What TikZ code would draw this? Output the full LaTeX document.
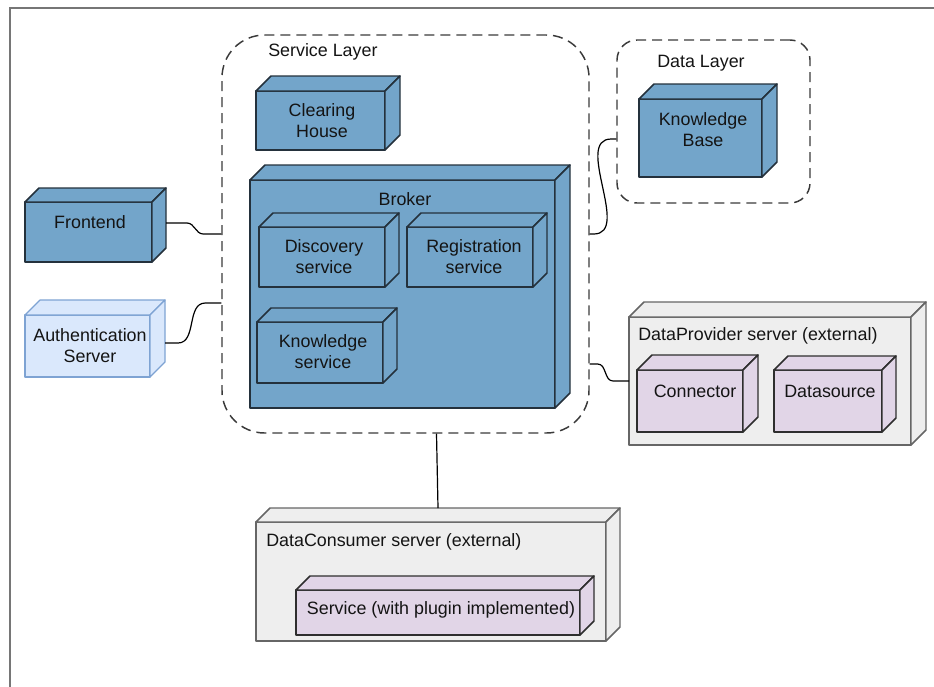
\documentclass[tikz,border=0pt]{standalone}
\usepackage{fontspec}
\setmainfont{Liberation Sans}
\usetikzlibrary{calc}

\definecolor{boxblue}{HTML}{73A5CA}
\definecolor{boxline}{HTML}{24313C}
\definecolor{authfill}{HTML}{DAE8FC}
\definecolor{authline}{HTML}{7EA3D3}
\definecolor{srvfill}{HTML}{EEEEEE}
\definecolor{srvline}{HTML}{666666}
\definecolor{compfill}{HTML}{E1D5E7}
\definecolor{compline}{HTML}{2E2E2E}
\definecolor{groupline}{HTML}{3A3A3A}
\definecolor{framegray}{HTML}{767676}
\definecolor{txtcol}{HTML}{141414}

\tikzset{
  cubeface/.style={rectangle, inner sep=0pt, outer sep=0pt},
  bluecube/.style={fill=boxblue, draw=boxline, line width=1.1pt, line join=round},
  authcube/.style={fill=authfill, draw=authline, line width=0.9pt, line join=round},
  srvcube/.style={fill=srvfill, draw=srvline, line width=1.1pt, line join=round},
  compcube/.style={fill=compfill, draw=compline, line width=1.1pt, line join=round},
  dashgroup/.style={rectangle, draw=groupline, line width=1.1pt, dash pattern=on 7.5pt off 4.5pt, inner sep=0pt},
  txt/.style={inner sep=0pt, text=txtcol, align=center, font=\fontsize{13.4}{15.8}\selectfont},
  lefttxt/.style={txt, anchor=west, align=left},
  link/.style={draw=black, line width=0.9pt},
}

% name, style, left, top, right, bottom (front face), depth
\newcommand\cubebox[7]{%
  \node[cubeface,#2,minimum width={(#5-#3)*0.75pt},minimum height={(#6-#4)*0.75pt}]
    (#1) at ({(#3+#5)/2},{(#4+#6)/2}) {};
  \draw[#2] (#1.north west) -- ([shift={(#7,-#7)}]#1.north west)
    -- ([shift={(#7,-#7)}]#1.north east) -- (#1.north east) -- cycle;
  \draw[#2] (#1.north east) -- ([shift={(#7,-#7)}]#1.north east)
    -- ([shift={(#7,-#7)}]#1.south east) -- (#1.south east) -- cycle;
}

\begin{document}
\begin{tikzpicture}[x=0.75pt, y=-0.75pt]
\useasboundingbox (0,0) rectangle (934,686);

% page frame
\draw[framegray, line width=1.5pt] (10,690) -- (10,8) -- (940,8);

% layer groups
\node[dashgroup, rounded corners=32pt, minimum width={(589-222)*0.75pt}, minimum height={(433-35)*0.75pt}]
  (svclayer) at (405.5,234) {};
\node[lefttxt] (svclabel) at (268,52) {Service Layer};

\node[dashgroup, rounded corners=15pt, minimum width={(810-617)*0.75pt}, minimum height={(203-40)*0.75pt}]
  (datalayer) at (713.5,121.5) {};
\node[lefttxt] (datalabel) at (657,63) {Data Layer};

% service layer content
\cubebox{clearing}{bluecube}{256}{91}{385}{150}{15}
\node[txt] (clearing-t) at (322,121) {Clearing\\House};

\cubebox{broker}{bluecube}{250}{180}{555}{408}{15}
\node[txt] (broker-t) at (405,199) {Broker};

\cubebox{discovery}{bluecube}{259}{227}{385}{287}{14}
\node[txt] (discovery-t) at (324,257) {Discovery\\service};

\cubebox{registration}{bluecube}{407}{227}{533}{287}{14}
\node[txt] (registration-t) at (474,257) {Registration\\service};

\cubebox{kservice}{bluecube}{257}{322}{383}{383}{14}
\node[txt] (kservice-t) at (323,352) {Knowledge\\service};

% clients
\cubebox{frontend}{bluecube}{25}{202}{152}{262}{14}
\node[txt] (frontend-t) at (90,222) {Frontend};

\cubebox{auth}{authcube}{25}{315}{150}{377}{15}
\node[txt] (auth-t) at (90,346) {Authentication\\Server};

% data layer content
\cubebox{kbase}{bluecube}{639}{99}{762}{177}{15}
\node[txt] (kbase-t) at (703,130) {Knowledge\\Base};

% data provider
\cubebox{dp}{srvcube}{629}{317}{911}{445}{15}
\node[lefttxt] (dp-t) at (638,336) {DataProvider server (external)};
\cubebox{connector}{compcube}{637}{370}{743}{432}{15}
\node[txt] (connector-t) at (695,391) {Connector};
\cubebox{datasource}{compcube}{774}{370}{882}{432}{14}
\node[txt] (datasource-t) at (830,391) {Datasource};

% data consumer
\cubebox{consumer}{srvcube}{256}{522}{606}{641}{14}
\node[lefttxt] (consumer-t) at (266,542) {DataConsumer server (external)};
\cubebox{plugin}{compcube}{296}{590}{580}{635}{14}
\node[txt] (plugin-t) at (441,610) {Service (with plugin implemented)};

% connectors
\draw[link] ([shift={(14,-9)}]frontend.east) -- ++(21,0)
  to[out=0,in=180] ($(svclayer.west)+(-18,0)$) -- (svclayer.west);
\draw[link] ([shift={(15,-3)}]auth.east) -- ++(13,0)
  to[out=0,in=180] ([shift={(-16,69)}]svclayer.west) -- ([shift={(0,69)}]svclayer.west);
\draw[link] (svclayer.east) -- ++(4,0)
  to[out=0,in=180] ([shift={(-5,17.5)}]datalayer.west) -- ([shift={(0,17.5)}]datalayer.west);
\draw[link] ([shift={(0,130)}]svclayer.east) -- ++(8,0)
  to[out=0,in=180] ([shift={(-16,0)}]dp.west) -- (dp.west);
\draw[link] ([shift={(31,0)}]svclayer.south) -- ([shift={(7,-14)}]consumer.north);
\end{tikzpicture}
\end{document}
